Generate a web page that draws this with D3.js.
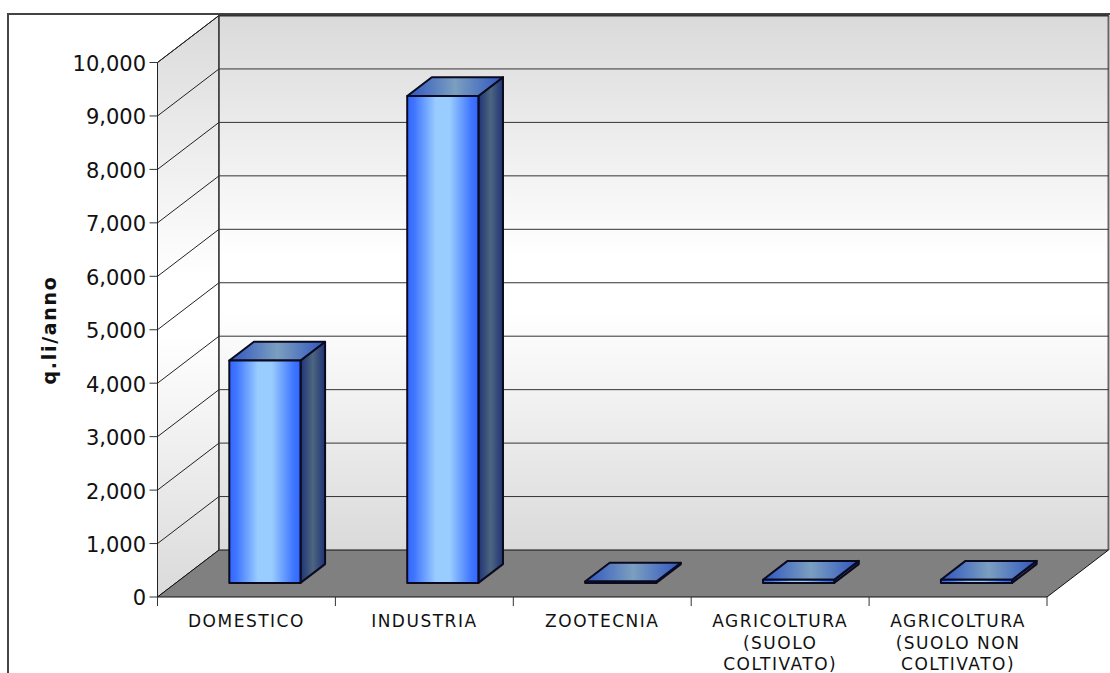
<!DOCTYPE html>
<html><head><meta charset="utf-8">
<script src="https://cdn.jsdelivr.net/npm/d3@7"></script>
<style>html,body{margin:0;padding:0;background:#fff;overflow:hidden}svg{display:block}text{font-family:"DejaVu Sans",Verdana,sans-serif;fill:#111}</style>
</head><body><svg id="c" width="1110" height="673"></svg>
<script>
const categories=[["DOMESTICO"],["INDUSTRIA"],["ZOOTECNIA"],["AGRICOLTURA","(SUOLO","COLTIVATO)"],["AGRICOLTURA","(SUOLO NON","COLTIVATO)"]];
const values=[4160,9110,25,60,60];
const yTicks=[0,1000,2000,3000,4000,5000,6000,7000,8000,9000,10000];
const svg=d3.select("#c");
const left=157.5,right=1047,top0=62.5,bottom=597,dx=61.5,dy=-47;
const y=d3.scaleLinear().domain([0,10000]).range([bottom,top0]);
const x=d3.scaleBand().domain(d3.range(categories.length)).range([left,right]).paddingInner(0).paddingOuter(0);
const defs=svg.append("defs");
function grad(id,x2,y2,stops){const g=defs.append("linearGradient").attr("id",id).attr("x1",0).attr("y1",0).attr("x2",x2).attr("y2",y2);
 stops.forEach(s=>g.append("stop").attr("offset",s[0]).attr("stop-color",s[1]));}
const wall=[[0,"#dadada"],[.45,"#ffffff"],[.55,"#ffffff"],[1,"#dadada"]];
grad("wall",0,1,wall);
grad("front",1,0,[[0,"#3366ff"],[.1,"#3f76ff"],[.4,"#99ccff"],[.6,"#99ccff"],[.9,"#3f76ff"],[1,"#3366ff"]]);
grad("topf",1,0,[[0,"#2f55c0"],[.5,"#7b9fbf"],[1,"#2f55c0"]]);
grad("side",1,0,[[0,"#1f3377"],[.5,"#4c6680"],[1,"#1f3377"]]);
const poly=p=>"M"+p.map(a=>a.join(",")).join("L")+"Z";
// outer frame
svg.append("path").attr("d",`M8,673V14H1110`).attr("fill","none").attr("stroke","#444").attr("stroke-width",2);
// side wall, back wall, floor
svg.append("path").attr("d",poly([[left,bottom],[left,top0],[left+dx,top0+dy],[left+dx,bottom+dy]])).attr("fill","url(#wall)").attr("stroke","#111");
svg.append("rect").attr("x",left+dx).attr("y",top0+dy).attr("width",right-left).attr("height",bottom-top0).attr("fill","url(#wall)");
svg.append("line").attr("x1",right+dx).attr("y1",top0+dy).attr("x2",right+dx).attr("y2",bottom+dy).attr("stroke","#666").attr("stroke-width",2);
svg.append("path").attr("d",poly([[left,bottom],[right,bottom],[right+dx,bottom+dy],[left+dx,bottom+dy]])).attr("fill","#808080").attr("stroke","#111");
// gridlines
yTicks.forEach(t=>{const v=y(t);
 if(t>0){svg.append("line").attr("x1",left).attr("y1",v).attr("x2",left+dx).attr("y2",v+dy).attr("stroke","#222");
 svg.append("line").attr("x1",left+dx).attr("y1",v+dy).attr("x2",right+dx).attr("y2",v+dy).attr("stroke","#333");}
 svg.append("line").attr("x1",left-8).attr("y1",v).attr("x2",left).attr("y2",v).attr("stroke","#333");
 svg.append("text").attr("x",146).attr("y",v).attr("dy","0.4em").attr("text-anchor","end").attr("font-size",21).text(d3.format(",")(t));
});
svg.append("line").attr("x1",left+dx).attr("y1",top0+dy).attr("x2",left+dx).attr("y2",bottom+dy).attr("stroke","#333").attr("stroke-width",1.5);
svg.append("line").attr("x1",left+dx).attr("y1",top0+dy).attr("x2",right+dx).attr("y2",top0+dy).attr("stroke","#333").attr("stroke-width",2);
svg.append("line").attr("x1",left).attr("y1",top0).attr("x2",left).attr("y2",bottom+9).attr("stroke","#222");
// bars
const z0=.3,zd=.4;
values.forEach((val,i)=>{
 const pad=x.bandwidth()*.3,w=x.bandwidth()*.4;
 const xf=x(i)+pad+dx*z0, off=dy*z0;
 const yb=bottom+off, yt=y(val)+off;
 const ddx=dx*zd, ddy=dy*zd;
 const g=svg.append("g").attr("stroke","#0a0a1e").attr("stroke-width",2).attr("stroke-linejoin","round");
 g.append("path").attr("d",poly([[xf+w,yb],[xf+w,yt],[xf+w+ddx,yt+ddy],[xf+w+ddx,yb+ddy]])).attr("fill","url(#side)");
 g.append("path").attr("d",poly([[xf,yt],[xf+w,yt],[xf+w+ddx,yt+ddy],[xf+ddx,yt+ddy]])).attr("fill","url(#topf)");
 g.append("rect").attr("x",xf).attr("y",yt).attr("width",w).attr("height",yb-yt).attr("fill","url(#front)");
});
// category ticks and labels
d3.range(categories.length+1).forEach(i=>{const p=i<categories.length?x(i):right;
 svg.append("line").attr("x1",p).attr("y1",bottom).attr("x2",p).attr("y2",bottom+9).attr("stroke","#333");});
categories.forEach((c,i)=>{const t=svg.append("text").attr("text-anchor","middle").attr("font-size",17).attr("letter-spacing",1.5);
 c.forEach((s,k)=>t.append("tspan").attr("x",x(i)+x.bandwidth()/2).attr("y",[627,649,669.5][k]).text(s));});
svg.append("text").attr("transform","translate(56,330) rotate(-90)").attr("text-anchor","middle").attr("font-size",19).attr("letter-spacing",1.7).attr("font-weight","bold").text("q.li/anno");
</script></body></html>
